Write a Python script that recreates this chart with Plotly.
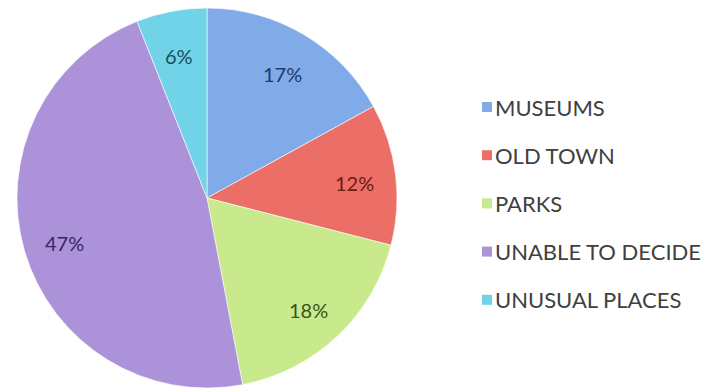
import math
import plotly.graph_objects as go

# Visitor preferences
categories = ["MUSEUMS", "OLD TOWN", "PARKS", "UNABLE TO DECIDE", "UNUSUAL PLACES"]
shares = [17, 12, 18, 47, 6]
slice_colors = ["#80AAE8", "#EC6F67", "#C8EA8C", "#AC92D8", "#70D3E8"]
label_colors = ["#1F3A6B", "#6B1A14", "#3A5515", "#3C2563", "#14505A"]

W, H = 704, 392
FONT = "Lato, Open Sans, sans-serif"

# pie placement in pixels
cx, cy, R = 207, 198, 190
label_r = 0.78 * R

fig = go.Figure(
    go.Pie(
        labels=categories,
        values=shares,
        sort=False,
        direction="clockwise",
        rotation=0,
        marker=dict(colors=slice_colors, line=dict(color="rgba(255,255,255,0.6)", width=1)),
        textinfo="none",
        domain=dict(x=[(cx - R) / W, (cx + R) / W], y=[(H - cy - R) / H, (H - cy + R) / H]),
        hoverinfo="label+percent",
        showlegend=False,
    )
)

# percentage labels along each slice's bisector
total = sum(shares)
annotations = []
cum = 0
for v, col in zip(shares, label_colors):
    mid = (cum + v / 2) / total * 2 * math.pi
    cum += v
    px = cx + label_r * math.sin(mid)
    py = cy - label_r * math.cos(mid) + 4
    annotations.append(dict(
        x=px / W, y=1 - py / H, xref="paper", yref="paper",
        text=f"{v}%", showarrow=False,
        font=dict(family=FONT, size=20, color=col),
        xanchor="center", yanchor="middle",
    ))

# legend: colour swatch + label for each category
shapes = []
leg_x, leg_y0, leg_dy, sw = 482, 107, 48.2, 10
for i, (name, col) in enumerate(zip(categories, slice_colors)):
    yc = leg_y0 + i * leg_dy
    shapes.append(dict(
        type="rect", xref="paper", yref="paper",
        x0=leg_x / W, x1=(leg_x + sw) / W,
        y0=1 - (yc + sw / 2) / H, y1=1 - (yc - sw / 2) / H,
        fillcolor=col, line=dict(width=0),
    ))
    annotations.append(dict(
        x=(leg_x + sw + 1) / W, y=1 - yc / H, xref="paper", yref="paper",
        text=name, showarrow=False,
        font=dict(family=FONT, size=22, color="#404040"),
        xanchor="left", yanchor="middle",
    ))

fig.update_layout(
    width=W,
    height=H,
    margin=dict(l=0, r=0, t=0, b=0),
    paper_bgcolor="white",
    plot_bgcolor="white",
    annotations=annotations,
    shapes=shapes,
)

fig.write_html("out.html")
